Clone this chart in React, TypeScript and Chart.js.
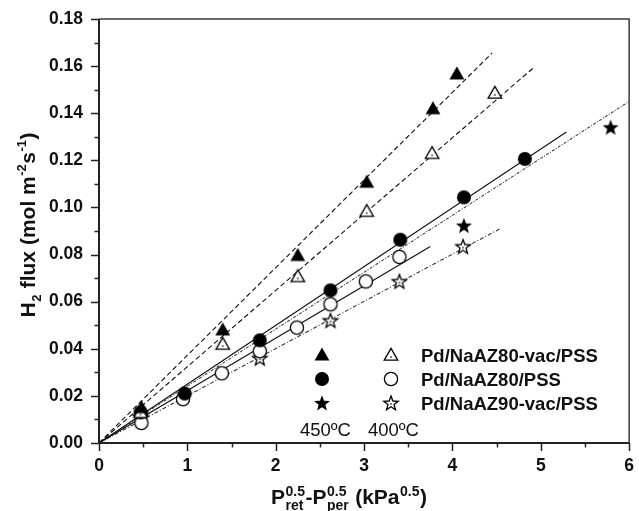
import React, { useEffect, useRef } from "react";
import { Chart, registerables } from "chart.js";
Chart.register(...registerables);

// ---- data ----
const triFilledX = [0.48, 1.4, 2.25, 3.03, 3.78, 4.05];
const triFilledY = [0.015, 0.048, 0.0796, 0.1107, 0.1419, 0.1567];
const triOpenX = [0.47, 1.4, 2.25, 3.03, 3.77, 4.48];
const triOpenY = [0.013, 0.042, 0.0707, 0.0984, 0.123, 0.1486];
const circFilledX = [0.47, 0.97, 1.82, 2.62, 3.41, 4.13, 4.82];
const circFilledY = [0.013, 0.021, 0.0436, 0.0648, 0.0863, 0.1043, 0.1206];
const circOpenX = [0.48, 0.95, 1.39, 1.82, 2.24, 2.62, 3.02, 3.4];
const circOpenY = [0.0085, 0.0186, 0.0296, 0.039, 0.049, 0.0589, 0.0686, 0.079];
const starFilledX = [4.13, 5.79];
const starFilledY = [0.0923, 0.134];
const starOpenX = [0.47, 1.82, 2.62, 3.4, 4.12];
const starOpenY = [0.011, 0.036, 0.052, 0.0686, 0.0834];

// linear fits (through origin): end points
const fitTriFilledX = [0, 4.45];
const fitTriFilledY = [0, 0.1656];
const fitTriOpenX = [0, 4.93];
const fitTriOpenY = [0, 0.1597];
const fitCircFilledX = [0, 5.29];
const fitCircFilledY = [0, 0.132];
const fitCircOpenX = [0, 3.75];
const fitCircOpenY = [0, 0.0834];
const fitStarFilledX = [0, 6.0];
const fitStarFilledY = [0, 0.145];
const fitStarOpenX = [0, 4.54];
const fitStarOpenY = [0, 0.091];

const legendLabels = ["Pd/NaAZ80-vac/PSS", "Pd/NaAZ80/PSS", "Pd/NaAZ90-vac/PSS"];
const tempLabels = ["450ºC", "400ºC"];

const FONT = "Arial, 'Liberation Sans', Helvetica, sans-serif";

const pts = (xs: number[], ys: number[]) => xs.map((x, i) => ({ x, y: ys[i] }));

type Kind = "tri" | "circ" | "star";

function markerCanvas(kind: Kind, filled: boolean): HTMLCanvasElement {
  const c = document.createElement("canvas");
  const s = 22;
  c.width = s;
  c.height = s;
  const g = c.getContext("2d")!;
  const cx = s / 2;
  const cy = s / 2;
  g.fillStyle = "#000";
  g.strokeStyle = "#000";
  g.lineWidth = 1.3;
  g.beginPath();
  if (kind === "tri") {
    const r = filled ? 8.6 : 7.8;
    const oy = 1.2;
    g.moveTo(cx, cy - r + oy);
    g.lineTo(cx + r * 0.866, cy + r * 0.5 + oy);
    g.lineTo(cx - r * 0.866, cy + r * 0.5 + oy);
    g.closePath();
  } else if (kind === "circ") {
    g.arc(cx, cy, filled ? 7 : 6.6, 0, Math.PI * 2);
  } else {
    const R = filled ? 8.4 : 7.6;
    const ri = R * 0.42;
    for (let i = 0; i < 10; i++) {
      const a = -Math.PI / 2 + (i * Math.PI) / 5;
      const rr = i % 2 === 0 ? R : ri;
      const px = cx + rr * Math.cos(a);
      const py = cy + 0.6 + rr * Math.sin(a);
      if (i === 0) g.moveTo(px, py);
      else g.lineTo(px, py);
    }
    g.closePath();
  }
  if (filled) {
    g.fill();
  } else {
    g.fillStyle = "#fff";
    g.fill();
    g.stroke();
    if (kind !== "circ") {
      g.fillStyle = "#444";
      g.beginPath();
      g.arc(cx, cy + (kind === "tri" ? 2 : 1), 0.9, 0, Math.PI * 2);
      g.fill();
    }
  }
  return c;
}

type Part = { t: string; sup?: string; sub?: string };

function drawRich(
  ctx: CanvasRenderingContext2D,
  x: number,
  y: number,
  parts: Part[],
  base: number,
  small: number,
  supRaise: number,
  subDrop: number,
  measureOnly = false
): number {
  let cx = x;
  for (const p of parts) {
    ctx.font = `bold ${base}px ${FONT}`;
    if (p.t) {
      if (!measureOnly) ctx.fillText(p.t, cx, y);
      cx += ctx.measureText(p.t).width;
    }
    if (p.sup || p.sub) {
      ctx.font = `bold ${small}px ${FONT}`;
      let w = 0;
      if (p.sup) {
        if (!measureOnly) ctx.fillText(p.sup, cx + 0.5, y - supRaise);
        w = Math.max(w, ctx.measureText(p.sup).width);
      }
      if (p.sub) {
        if (!measureOnly) ctx.fillText(p.sub, cx + 0.5, y + subDrop);
        w = Math.max(w, ctx.measureText(p.sub).width);
      }
      cx += w + 1;
    }
  }
  return cx - x;
}

export default function App() {
  const ref = useRef<HTMLCanvasElement | null>(null);

  useEffect(() => {
    document.body.style.margin = "0";
    const canvas = ref.current!;
    const mTriF = markerCanvas("tri", true);
    const mTriO = markerCanvas("tri", false);
    const mCircF = markerCanvas("circ", true);
    const mCircO = markerCanvas("circ", false);
    const mStarF = markerCanvas("star", true);
    const mStarO = markerCanvas("star", false);

    const lineDs = (xs: number[], ys: number[], dash: number[], color = "#111", width = 1.1) => ({
      data: pts(xs, ys),
      showLine: true,
      borderColor: color,
      borderWidth: width,
      borderDash: dash,
      pointRadius: 0,
      fill: false,
      order: 2,
    });
    const markDs = (xs: number[], ys: number[], img: HTMLCanvasElement) => ({
      data: pts(xs, ys),
      showLine: false,
      pointStyle: img,
      pointRadius: 8,
      order: 1,
    });

    const framePlugin = {
      id: "frame",
      afterDraw(chart: any) {
        const ctx: CanvasRenderingContext2D = chart.ctx;
        const ca = chart.chartArea;
        const xs = chart.scales.x;
        const ys = chart.scales.y;
        ctx.save();
        // frame
        ctx.strokeStyle = "#3a3a3a";
        ctx.lineWidth = 1.5;
        ctx.beginPath();
        ctx.moveTo(ca.left, ca.top);
        ctx.lineTo(ca.right, ca.top);
        ctx.lineTo(ca.right, ca.bottom);
        ctx.stroke();
        ctx.strokeStyle = "#222";
        ctx.lineWidth = 2;
        ctx.beginPath();
        ctx.moveTo(ca.left, ca.top);
        ctx.lineTo(ca.left, ca.bottom);
        ctx.lineTo(ca.right, ca.bottom);
        ctx.stroke();
        // ticks
        ctx.lineWidth = 1.5;
        ctx.beginPath();
        for (let i = 0; i <= 18; i++) {
          const v = i * 0.01;
          const py = Math.round(ys.getPixelForValue(v)) + 0.5;
          const len = i % 2 === 0 ? 8 : 4.5;
          ctx.moveTo(ca.left - len, py);
          ctx.lineTo(ca.left, py);
        }
        for (let i = 0; i <= 12; i++) {
          const v = i * 0.5;
          const px = Math.round(xs.getPixelForValue(v)) + 0.5;
          const len = i % 2 === 0 ? 8 : 4.5;
          ctx.moveTo(px, ca.bottom);
          ctx.lineTo(px, ca.bottom + len);
        }
        ctx.stroke();

        ctx.fillStyle = "#111";
        ctx.textAlign = "left";
        ctx.textBaseline = "alphabetic";

        // y title (rotated)
        const yParts: Part[] = [
          { t: "H", sub: "2" },
          { t: " flux (mol m", sup: "-2" },
          { t: "s", sup: "-1" },
          { t: ")" },
        ];
        ctx.save();
        ctx.translate(35, 225);
        ctx.rotate(-Math.PI / 2);
        const yw = drawRich(ctx, 0, 0, yParts, 21, 13, 9, 6, true);
        drawRich(ctx, -yw / 2, 0, yParts, 21, 13, 9, 6);
        ctx.restore();

        // x title
        const xParts: Part[] = [
          { t: "P", sup: "0.5", sub: "ret" },
          { t: "-P", sup: "0.5", sub: "per" },
          { t: " (kPa", sup: "0.5" },
          { t: ")" },
        ];
        const xw = drawRich(ctx, 0, 0, xParts, 21, 14, 8, 6, true);
        drawRich(ctx, 349 - xw / 2, 504, xParts, 21, 14, 8, 6);

        // legend
        const rowsY = [355, 379, 403];
        const filledM = [mTriF, mCircF, mStarF];
        const openM = [mTriO, mCircO, mStarO];
        for (let i = 0; i < 3; i++) {
          const f = filledM[i];
          const o = openM[i];
          ctx.drawImage(f, 322 - f.width / 2, rowsY[i] - f.height / 2);
          ctx.drawImage(o, 391 - o.width / 2, rowsY[i] - o.height / 2);
          ctx.font = `bold 18.5px ${FONT}`;
          ctx.fillText(legendLabels[i], 421, rowsY[i] + 6.5);
        }
        ctx.font = `18.5px ${FONT}`;
        ctx.fillText(tempLabels[0], 300, 436);
        ctx.fillText(tempLabels[1], 368, 436);
        ctx.restore();
      },
    };

    const chart = new Chart(canvas, {
      type: "scatter",
      data: {
        datasets: [
          lineDs(fitTriFilledX, fitTriFilledY, [5, 3]),
          lineDs(fitTriOpenX, fitTriOpenY, [5, 3]),
          lineDs(fitCircFilledX, fitCircFilledY, []),
          lineDs(fitCircOpenX, fitCircOpenY, []),
          lineDs(fitStarFilledX, fitStarFilledY, [3, 1.5, 1, 1.5], "#444", 1.1),
          lineDs(fitStarOpenX, fitStarOpenY, [4, 2, 1, 2], "#333", 1.1),
          markDs(triFilledX, triFilledY, mTriF),
          markDs(triOpenX, triOpenY, mTriO),
          markDs(circFilledX, circFilledY, mCircF),
          markDs(circOpenX, circOpenY, mCircO),
          markDs(starFilledX, starFilledY, mStarF),
          markDs(starOpenX, starOpenY, mStarO),
        ] as any,
      },
      options: {
        animation: false,
        responsive: false,
        maintainAspectRatio: false,
        devicePixelRatio: 1,
        layout: { padding: { left: 0, top: 19, right: 7, bottom: 0 } },
        plugins: { legend: { display: false }, tooltip: { enabled: false } },
        scales: {
          x: {
            type: "linear",
            min: 0,
            max: 6,
            afterFit: (s: any) => {
              s.height = 68;
            },
            border: { display: false },
            grid: { display: true, drawOnChartArea: false, drawTicks: true, tickLength: 8, color: "rgba(0,0,0,0)" },
            ticks: {
              stepSize: 1,
              padding: 5,
              color: "#111",
              font: { family: FONT, size: 17.5, weight: "bold" },
              callback: (v: any) => String(v),
            },
          },
          y: {
            type: "linear",
            min: 0,
            max: 0.18,
            afterFit: (s: any) => {
              s.width = 99;
            },
            border: { display: false },
            grid: { display: true, drawOnChartArea: false, drawTicks: true, tickLength: 8, color: "rgba(0,0,0,0)" },
            ticks: {
              stepSize: 0.02,
              padding: 8,
              color: "#111",
              font: { family: FONT, size: 17.5, weight: "bold" },
              callback: (v: any) => Number(v).toFixed(2),
            },
          },
        },
      },
      plugins: [framePlugin],
    } as any);
    return () => chart.destroy();
  }, []);

  return (
    <div style={{ position: "absolute", left: 0, top: 0, width: 639, height: 511, background: "#fff" }}>
      <canvas ref={ref} width={639} height={511} style={{ display: "block", width: 639, height: 511 }} />
    </div>
  );
}
